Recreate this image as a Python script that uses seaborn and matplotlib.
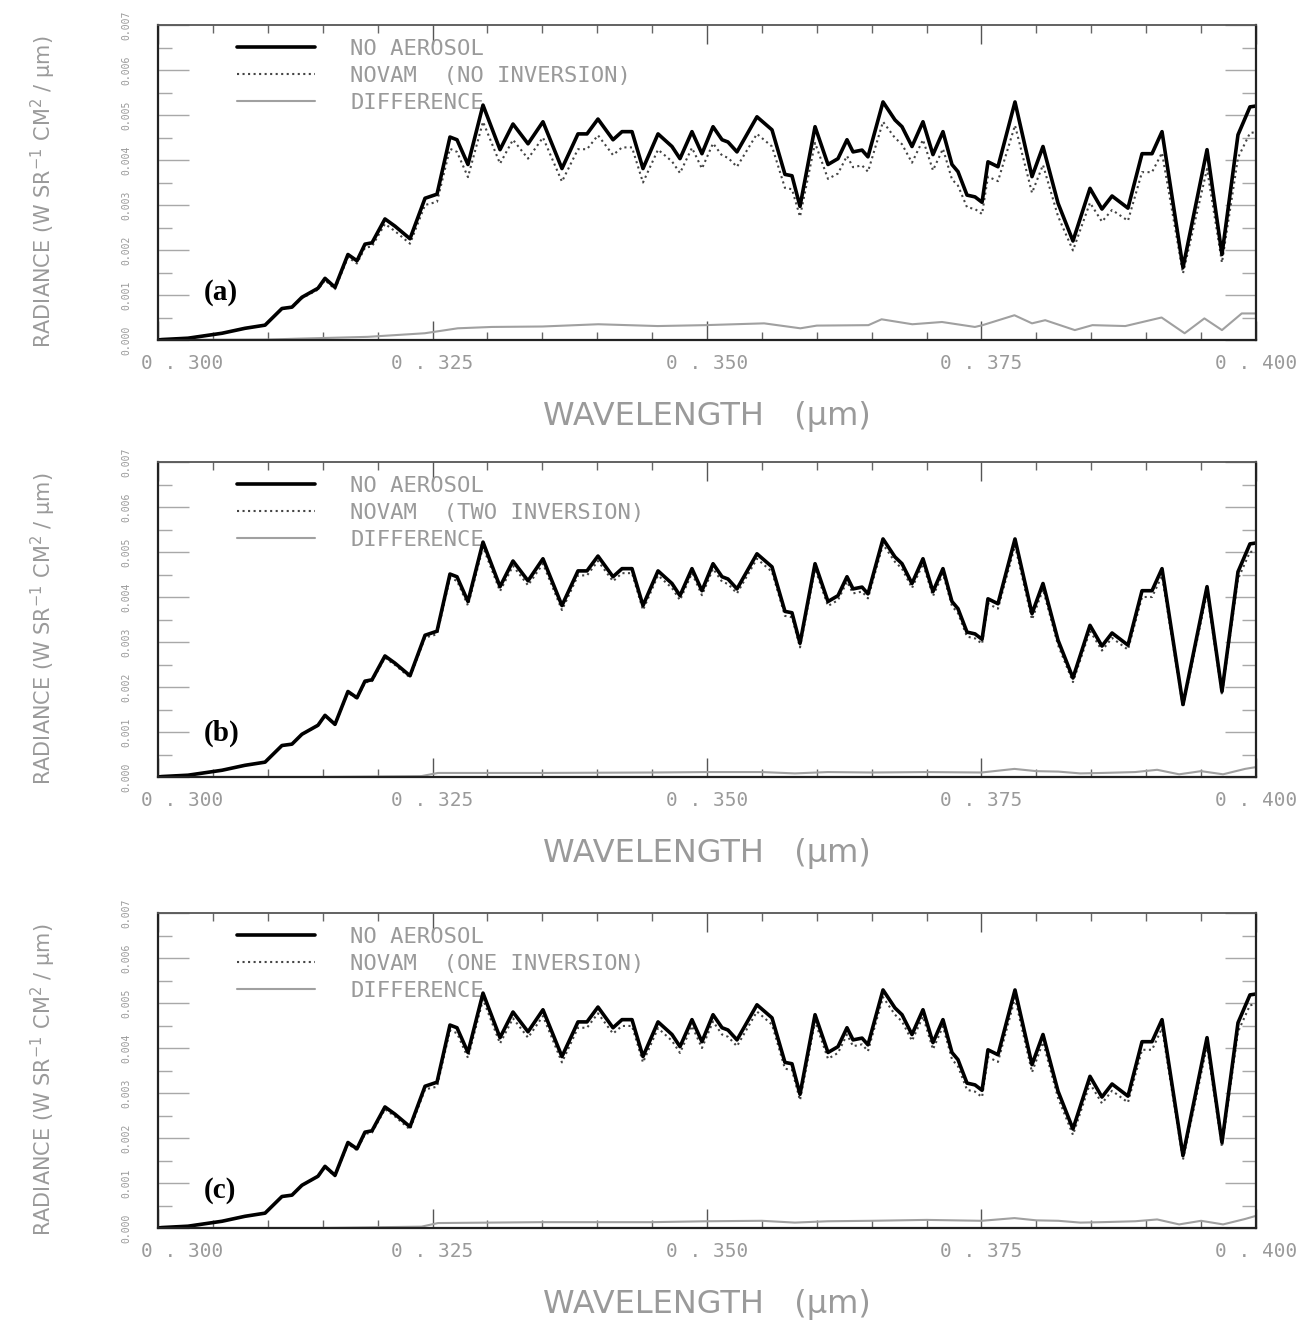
import numpy as np
import pandas as pd
import matplotlib
matplotlib.use("Agg")
import matplotlib.pyplot as plt
import seaborn as sns
from matplotlib.ticker import MultipleLocator
from matplotlib import font_manager
from matplotlib.font_manager import FontProperties
from matplotlib.transforms import ScaledTranslation

# ---------------- data ----------------
WAVELENGTH = [0.30000, 0.30036, 0.30273, 0.30583, 0.30792, 0.30975, 0.31129, 0.31220, 0.31311, 0.31457,
              0.31521, 0.31612, 0.31730, 0.31812, 0.31885, 0.31949, 0.32067, 0.32158, 0.32295, 0.32432,
              0.32541, 0.32659, 0.32723, 0.32823, 0.32960, 0.33115, 0.33233, 0.33370, 0.33506, 0.33679,
              0.33825, 0.33907, 0.34007, 0.34144, 0.34226, 0.34317, 0.34417, 0.34554, 0.34681, 0.34754,
              0.34863, 0.34954, 0.35055, 0.35137, 0.35191, 0.35273, 0.35455, 0.35592, 0.35710, 0.35774,
              0.35847, 0.35984, 0.36102, 0.36193, 0.36275, 0.36330, 0.36412, 0.36466, 0.36603, 0.36712,
              0.36776, 0.36867, 0.36967, 0.37058, 0.37149, 0.37231, 0.37286, 0.37368, 0.37441, 0.37505,
              0.37559, 0.37650, 0.37805, 0.37960, 0.38060, 0.38197, 0.38333, 0.38488, 0.38597, 0.38689,
              0.38834, 0.38962, 0.39053, 0.39144, 0.39335, 0.39554, 0.39690, 0.39836, 0.39945, 0.40000]

NO_AEROSOL = [0.00000, 0.00001, 0.00004, 0.00015, 0.00026, 0.00033, 0.00070, 0.00073, 0.00095, 0.00115,
              0.00137, 0.00117, 0.00190, 0.00176, 0.00213, 0.00216, 0.00269, 0.00253, 0.00225, 0.00315,
              0.00324, 0.00451, 0.00445, 0.00390, 0.00522, 0.00423, 0.00480, 0.00436, 0.00485, 0.00381,
              0.00458, 0.00458, 0.00491, 0.00445, 0.00463, 0.00463, 0.00381, 0.00458, 0.00430, 0.00403,
              0.00463, 0.00414, 0.00474, 0.00445, 0.00440, 0.00418, 0.00496, 0.00467, 0.00368, 0.00365,
              0.00297, 0.00474, 0.00390, 0.00403, 0.00445, 0.00418, 0.00422, 0.00407, 0.00529, 0.00489,
              0.00474, 0.00430, 0.00485, 0.00412, 0.00463, 0.00390, 0.00374, 0.00322, 0.00318, 0.00306,
              0.00396, 0.00385, 0.00529, 0.00363, 0.00430, 0.00304, 0.00220, 0.00337, 0.00291, 0.00320,
              0.00293, 0.00414, 0.00414, 0.00463, 0.00161, 0.00423, 0.00190, 0.00456, 0.00518, 0.00520]

NOVAM_NO_INV = [0.00000, 0.00001, 0.00004, 0.00015, 0.00026, 0.00033, 0.00069, 0.00072, 0.00093, 0.00112,
                0.00133, 0.00113, 0.00184, 0.00170, 0.00205, 0.00208, 0.00258, 0.00242, 0.00214, 0.00300,
                0.00307, 0.00425, 0.00418, 0.00362, 0.00485, 0.00392, 0.00445, 0.00403, 0.00450, 0.00352,
                0.00424, 0.00424, 0.00455, 0.00411, 0.00428, 0.00428, 0.00350, 0.00423, 0.00397, 0.00371,
                0.00427, 0.00381, 0.00437, 0.00410, 0.00405, 0.00385, 0.00458, 0.00430, 0.00338, 0.00335,
                0.00274, 0.00438, 0.00358, 0.00370, 0.00409, 0.00384, 0.00388, 0.00374, 0.00485, 0.00449,
                0.00435, 0.00394, 0.00445, 0.00377, 0.00425, 0.00357, 0.00343, 0.00295, 0.00291, 0.00280,
                0.00363, 0.00353, 0.00477, 0.00327, 0.00389, 0.00275, 0.00199, 0.00305, 0.00263, 0.00289,
                0.00265, 0.00373, 0.00373, 0.00416, 0.00148, 0.00380, 0.00172, 0.00405, 0.00460, 0.00462]

NOVAM_TWO_INV = [0.00000, 0.00001, 0.00004, 0.00015, 0.00026, 0.00033, 0.00070, 0.00073, 0.00095, 0.00114,
                 0.00136, 0.00116, 0.00188, 0.00174, 0.00210, 0.00213, 0.00265, 0.00249, 0.00221, 0.00310,
                 0.00317, 0.00442, 0.00436, 0.00381, 0.00511, 0.00413, 0.00469, 0.00426, 0.00474, 0.00371,
                 0.00448, 0.00448, 0.00480, 0.00435, 0.00453, 0.00453, 0.00371, 0.00448, 0.00420, 0.00393,
                 0.00453, 0.00404, 0.00463, 0.00434, 0.00429, 0.00408, 0.00485, 0.00456, 0.00358, 0.00355,
                 0.00288, 0.00463, 0.00380, 0.00393, 0.00434, 0.00408, 0.00412, 0.00397, 0.00517, 0.00478,
                 0.00463, 0.00420, 0.00474, 0.00402, 0.00452, 0.00380, 0.00364, 0.00312, 0.00308, 0.00296,
                 0.00385, 0.00374, 0.00514, 0.00350, 0.00417, 0.00293, 0.00211, 0.00325, 0.00281, 0.00309,
                 0.00283, 0.00400, 0.00400, 0.00447, 0.00155, 0.00409, 0.00183, 0.00440, 0.00500, 0.00502]

NOVAM_ONE_INV = [0.00000, 0.00001, 0.00004, 0.00015, 0.00026, 0.00033, 0.00070, 0.00073, 0.00095, 0.00114,
                 0.00135, 0.00115, 0.00187, 0.00173, 0.00209, 0.00212, 0.00264, 0.00248, 0.00219, 0.00308,
                 0.00314, 0.00439, 0.00433, 0.00378, 0.00508, 0.00410, 0.00466, 0.00423, 0.00471, 0.00368,
                 0.00445, 0.00445, 0.00477, 0.00432, 0.00449, 0.00449, 0.00368, 0.00444, 0.00416, 0.00389,
                 0.00449, 0.00400, 0.00459, 0.00430, 0.00425, 0.00404, 0.00481, 0.00452, 0.00354, 0.00351,
                 0.00284, 0.00459, 0.00376, 0.00389, 0.00430, 0.00404, 0.00408, 0.00393, 0.00513, 0.00474,
                 0.00459, 0.00416, 0.00470, 0.00397, 0.00448, 0.00375, 0.00359, 0.00307, 0.00303, 0.00291,
                 0.00380, 0.00369, 0.00511, 0.00346, 0.00413, 0.00289, 0.00207, 0.00321, 0.00277, 0.00305,
                 0.00279, 0.00396, 0.00396, 0.00444, 0.00152, 0.00405, 0.00180, 0.00436, 0.00495, 0.00497]

DIFF_WL_A = [0.300, 0.310, 0.3128, 0.3191, 0.3243, 0.3273, 0.3304, 0.3350, 0.3401, 0.3455, 0.3498,
             0.3552, 0.3585, 0.3600, 0.3647, 0.3659, 0.3687, 0.3714, 0.3744, 0.3751, 0.3780, 0.3796,
             0.3808, 0.3835, 0.3851, 0.3881, 0.3914, 0.3935, 0.3953, 0.3969, 0.3987, 0.4000]
DIFF_A = [0.0, 0.00001, 0.00003, 0.00007, 0.00015, 0.00026, 0.00029, 0.00030, 0.00035, 0.00031, 0.00033,
          0.00037, 0.00026, 0.00032, 0.00033, 0.00046, 0.00035, 0.00040, 0.00029, 0.00033, 0.00055, 0.00037,
          0.00044, 0.00022, 0.00033, 0.00031, 0.00050, 0.00015, 0.00048, 0.00022, 0.00059, 0.00059]

DIFF_WL_B = [0.300, 0.3145, 0.3240, 0.3255, 0.3350, 0.3450, 0.3500, 0.3550, 0.3580, 0.3610, 0.3650, 0.3700,
             0.3750, 0.3780, 0.3800, 0.3820, 0.3840, 0.3860, 0.3890, 0.3910, 0.3930, 0.3950, 0.3970, 0.3990, 0.4000]
DIFF_B = [0.0, 0.0, 0.00002, 0.00009, 0.00009, 0.00010, 0.00011, 0.00011, 0.00008, 0.00011, 0.00010, 0.00011,
          0.00010, 0.00018, 0.00013, 0.00012, 0.00008, 0.00009, 0.00011, 0.00016, 0.00006, 0.00013, 0.00006,
          0.00018, 0.00022]

DIFF_WL_C = [0.300, 0.3150, 0.3240, 0.3255, 0.3350, 0.3450, 0.3500, 0.3550, 0.3580, 0.3610, 0.3650, 0.3700,
             0.3750, 0.3780, 0.3800, 0.3820, 0.3840, 0.3860, 0.3890, 0.3910, 0.3930, 0.3950, 0.3970, 0.3990, 0.4000]
DIFF_C = [0.0, 0.0, 0.00003, 0.00011, 0.00013, 0.00013, 0.00015, 0.00016, 0.00012, 0.00015, 0.00016, 0.00018,
          0.00016, 0.00022, 0.00017, 0.00016, 0.00012, 0.00013, 0.00015, 0.00019, 0.00008, 0.00016, 0.00008,
          0.00020, 0.00027]

X_TICKS = [0.300, 0.325, 0.350, 0.375, 0.400]
X_TICK_LABELS = ["0 . 300", "0 . 325", "0 . 350", "0 . 375", "0 . 400"]
Y_TICKS = [0.000, 0.001, 0.002, 0.003, 0.004, 0.005, 0.006, 0.007]
Y_TICK_LABELS = ["0.000", "0.001", "0.002", "0.003", "0.004", "0.005", "0.006", "0.007"]
PANEL_LABELS = ["(a)", "(b)", "(c)"]
SERIES_NA = "NO AEROSOL"
SERIES_DIFF = "DIFFERENCE"
NOVAM_LABELS = ["NOVAM  (NO INVERSION)", "NOVAM  (TWO INVERSION)", "NOVAM  (ONE INVERSION)"]
NOVAM_SERIES = [NOVAM_NO_INV, NOVAM_TWO_INV, NOVAM_ONE_INV]
DIFF_SERIES = [(DIFF_WL_A, DIFF_A), (DIFF_WL_B, DIFF_B), (DIFF_WL_C, DIFF_C)]
XLABEL = "WAVELENGTH   (\u03bcm)"
YLABEL = "RADIANCE (W SR$^{-1}$ CM$^{2}$ / \u03bcm)"

# ---------------- style ----------------
sns.set_style("ticks")
avail = {f.name for f in font_manager.fontManager.ttflist}


def pick(*names):
    for n in names:
        if n in avail:
            return n
    return "DejaVu Sans"


MONO = pick("DejaVu Sans Mono", "Liberation Mono")
SANS = pick("DejaVu Sans")
SERIF = pick("Liberation Serif", "DejaVu Serif")
plt.rcParams["font.family"] = [SANS]
plt.rcParams["mathtext.fontset"] = "dejavusans"

GRAY_TXT = "#9a9a9a"
GRAY_TICK = "#a8a8a8"

fig = plt.figure(figsize=(13.08, 13.21), dpi=100)
W, H = 1308.0, 1321.0
left_px, right_px = 158, 1256
tops = [25, 462, 913]
height_px = 315
label_y = [0.152, 0.14, 0.12]

for i in range(3):
    top = tops[i]
    ax = fig.add_axes([left_px / W, 1 - (top + height_px) / H,
                       (right_px - left_px) / W, height_px / H])

    df_na = pd.DataFrame({"wl": WAVELENGTH, "rad": NO_AEROSOL})
    df_nv = pd.DataFrame({"wl": WAVELENGTH, "rad": NOVAM_SERIES[i]})
    dwl, dval = DIFF_SERIES[i]
    df_df = pd.DataFrame({"wl": dwl, "rad": dval})

    sns.lineplot(data=df_df, x="wl", y="rad", ax=ax, color="#a0a0a0", linewidth=1.5,
                 estimator=None, sort=False, legend=False)
    h_diff = ax.lines[-1]
    sns.lineplot(data=df_nv, x="wl", y="rad", ax=ax, color="#444444", linewidth=1.5,
                 linestyle=":", estimator=None, sort=False, legend=False)
    h_nv = ax.lines[-1]
    sns.lineplot(data=df_na, x="wl", y="rad", ax=ax, color="black", linewidth=2.6,
                 estimator=None, sort=False, legend=False)
    h_na = ax.lines[-1]
    for ln in (h_diff, h_nv, h_na):
        ln.set_solid_joinstyle("round")
        ln.set_solid_capstyle("round")

    ax.set_xlim(0.300, 0.400)
    ax.set_ylim(0.0, 0.007)
    ax.set_xticks(X_TICKS, X_TICK_LABELS)
    ax.xaxis.set_minor_locator(MultipleLocator(0.005))
    ax.set_yticks(Y_TICKS, Y_TICK_LABELS)
    ax.yaxis.set_minor_locator(MultipleLocator(0.0005))

    ax.tick_params(axis="x", which="major", direction="in", length=14, width=1.0, color="#555555",
                   top=True, bottom=True, labelsize=14, labelcolor=GRAY_TXT, pad=10)
    ax.tick_params(axis="x", which="minor", direction="in", length=6, width=1.0, color="#666666",
                   top=True, bottom=True)
    ax.tick_params(axis="y", which="major", direction="in", length=22, width=1.0, color=GRAY_TICK,
                   left=True, right=True, labelsize=7, labelcolor=GRAY_TXT, labelrotation=90, pad=19)
    ax.tick_params(axis="y", which="minor", direction="in", length=10, width=1.0, color=GRAY_TICK,
                   left=True, right=True)
    xlabs = ax.get_xticklabels()
    for lab in xlabs:
        lab.set_fontfamily(MONO)
    xlabs[0].set_transform(xlabs[0].get_transform() + ScaledTranslation(24 / 100, 0, fig.dpi_scale_trans))
    for lab in ax.get_yticklabels():
        lab.set_fontfamily(MONO)
        lab.set_verticalalignment("center")

    for side in ["left", "right", "bottom"]:
        ax.spines[side].set_color("#222222")
        ax.spines[side].set_linewidth(1.6)
    ax.spines["top"].set_color("#555555")
    ax.spines["top"].set_linewidth(1.3)

    ax.set_xlabel(XLABEL, fontsize=23, color=GRAY_TXT, labelpad=20, fontfamily=SANS)
    ax.set_ylabel(YLABEL, fontsize=15, color=GRAY_TXT, fontfamily=SANS)
    ax.yaxis.set_label_coords(-0.091, 0.47)

    leg = ax.legend([h_na, h_nv, h_diff], [SERIES_NA, NOVAM_LABELS[i], SERIES_DIFF],
                    loc="upper left", bbox_to_anchor=(0.072, 0.955), frameon=False,
                    borderpad=0, borderaxespad=0, handlelength=3.5, handletextpad=1.6,
                    labelspacing=0.3, prop=FontProperties(family=MONO, size=16))
    for t in leg.get_texts():
        t.set_color(GRAY_TXT)
    leg.set_zorder(1)

    ax.text(0.042, label_y[i], PANEL_LABELS[i], transform=ax.transAxes, fontfamily=SERIF,
            fontweight="bold", fontsize=21, ha="left", va="center", color="black")

fig.savefig("out.png", dpi=100)
